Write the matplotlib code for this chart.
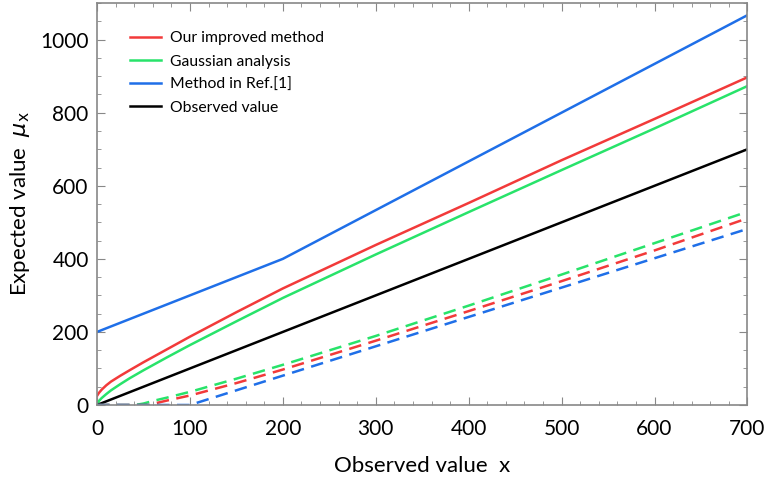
import matplotlib.pyplot as plt
from matplotlib.ticker import MultipleLocator

# values
x_obs = [0, 700]
y_obs = [0, 700]

x_s = [0, 2, 5, 10, 15, 25, 35, 50, 75, 100, 150, 200, 300, 400, 500, 600, 700]
red_up = [25, 33, 42, 54, 64, 80, 95, 117, 152, 187, 254, 319, 438, 553, 670, 783, 897]
green_up = [0, 11, 19, 30, 40, 57, 73, 95, 130, 164, 229, 293, 412, 528, 643, 757, 873]

x_lo = [0, 41, 50, 60, 75, 100, 150, 200, 300, 400, 500, 600, 700]
green_lo = [0, 0, 4, 11, 20, 36, 72, 110, 189, 272, 357, 443, 529]
x_lo_r = [0, 55, 60, 75, 100, 150, 200, 300, 400, 500, 600, 700]
red_lo = [0, 0, 3, 12, 26, 60, 97, 176, 257, 339, 423, 511]

x_blue_up = [0, 200, 700]
blue_up = [200, 400, 1067]
x_blue_lo = [0, 100, 700]
blue_lo = [0, 0, 482]

RED = '#f23a3a'
GREEN = '#28e36a'
BLUE = '#1f6fe8'

plt.rcParams['font.family'] = ['Lato', 'DejaVu Sans']

fig = plt.figure(figsize=(7.67, 4.79), dpi=100)
ax = fig.add_axes([0.1265, 0.1545, 0.848, 0.839])

lw = 1.8
ax.plot(x_s, red_up, color=RED, lw=lw, label='Our improved method')
ax.plot(x_s, green_up, color=GREEN, lw=lw, label='Gaussian analysis')
ax.plot(x_blue_up, blue_up, color=BLUE, lw=lw, label='Method in Ref.[1]')
ax.plot(x_obs, y_obs, color='black', lw=lw, label='Observed value')

ax.plot(x_lo, green_lo, color=GREEN, lw=lw, ls=(0, (5, 3)))
ax.plot(x_lo_r, red_lo, color=RED, lw=lw, ls=(0, (5, 3)))
ax.plot(x_blue_lo, blue_lo, color=BLUE, lw=lw, ls=(0, (5, 3)))

ax.set_xlim(0, 700)
ax.set_ylim(0, 1100)
ax.xaxis.set_major_locator(MultipleLocator(100))
ax.xaxis.set_minor_locator(MultipleLocator(20))
ax.yaxis.set_major_locator(MultipleLocator(200))
ax.yaxis.set_minor_locator(MultipleLocator(50))
ax.tick_params(which='both', direction='in', top=True, right=True, color='#888888')
ax.tick_params(which='major', length=6, labelsize=15)
ax.tick_params(which='minor', length=3)
ax.tick_params(axis='x', which='major', pad=10)
ax.tick_params(axis='y', which='major', pad=6)
for s in ax.spines.values():
    s.set_color('#888888')
    s.set_linewidth(1.2)

ax.set_xlabel('Observed value  x', fontsize=16, labelpad=12)
ax.set_ylabel(r'Expected value  $\mu_\mathrm{x}$', fontsize=16, labelpad=6)

ax.legend(loc='upper left', frameon=False, fontsize=11.3, handlelength=1.95,
          handletextpad=0.6, labelspacing=0.58, borderaxespad=0,
          bbox_to_anchor=(0.0415, 0.945))

fig.savefig('out.png', dpi=100)
